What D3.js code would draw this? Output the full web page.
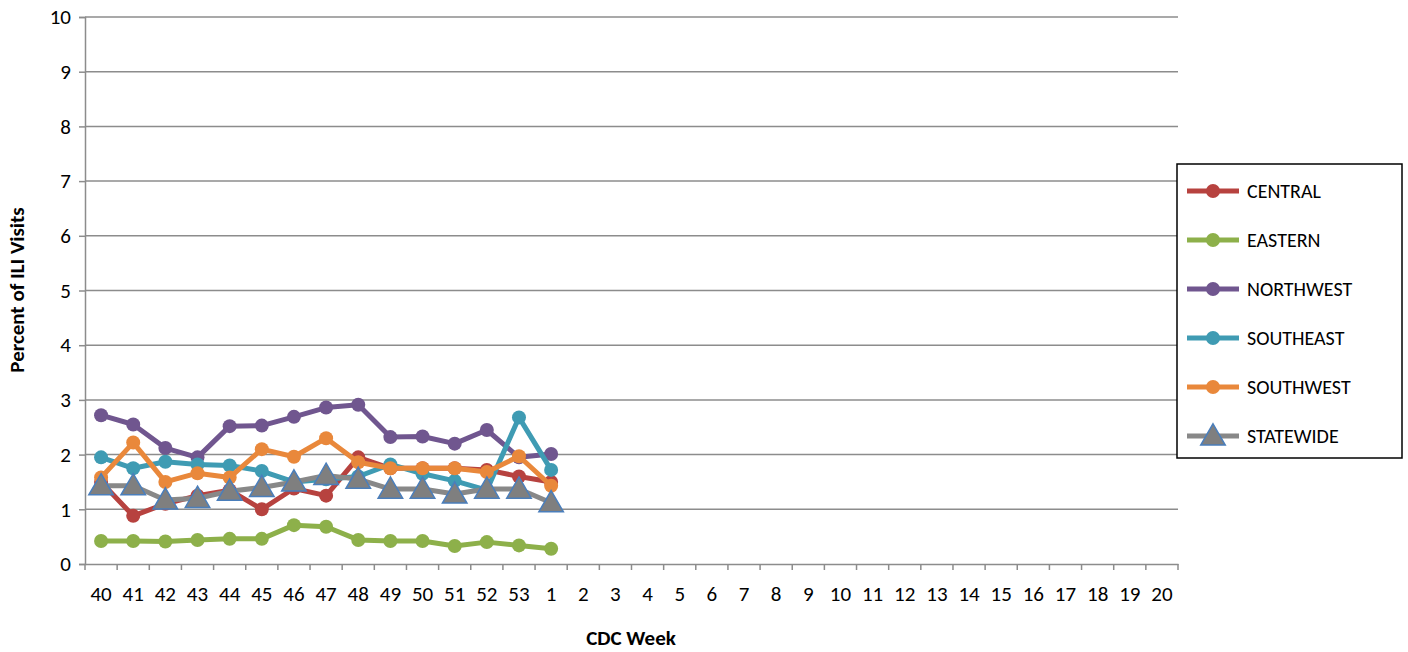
<!DOCTYPE html>
<html><head><meta charset="utf-8">
<script src="https://cdn.jsdelivr.net/npm/d3@7"></script>
<style>body{margin:0;background:#fff}text{font-family:Carlito,"Open Sans","Liberation Sans",sans-serif}</style>
</head><body>
<svg id="chart" width="1408" height="652"></svg>
<script>
const weeks = ["40","41","42","43","44","45","46","47","48","49","50","51","52","53","1","2","3","4","5","6","7","8","9","10","11","12","13","14","15","16","17","18","19","20"];
const central   = [1.5,0.88,1.1,1.25,1.35,1.0,1.38,1.25,1.95,1.75,1.75,1.75,1.72,1.6,1.5];
const eastern   = [0.42,0.42,0.41,0.44,0.46,0.46,0.71,0.68,0.44,0.42,0.42,0.33,0.40,0.34,0.28];
const northwest = [2.72,2.55,2.12,1.95,2.52,2.53,2.69,2.86,2.91,2.32,2.33,2.2,2.45,1.95,2.01];
const southeast = [1.95,1.75,1.87,1.82,1.8,1.7,1.5,1.55,1.6,1.82,1.65,1.52,1.35,2.68,1.72];
const southwest = [1.58,2.22,1.5,1.66,1.58,2.1,1.96,2.3,1.86,1.75,1.75,1.75,1.68,1.97,1.43];
const statewide = [1.43,1.43,1.17,1.2,1.33,1.4,1.5,1.62,1.55,1.37,1.37,1.28,1.37,1.37,1.12];
const yTicks = d3.range(0, 11);

const series = [
  {name:"CENTRAL", values:central, color:"#b7423f", marker:"circle"},
  {name:"EASTERN", values:eastern, color:"#8db04a", marker:"circle"},
  {name:"NORTHWEST", values:northwest, color:"#70568f", marker:"circle"},
  {name:"SOUTHEAST", values:southeast, color:"#3f9bb3", marker:"circle"},
  {name:"SOUTHWEST", values:southwest, color:"#e9883b", marker:"circle"},
  {name:"STATEWIDE", values:statewide, color:"#888888", marker:"triangle"}
];

const svg = d3.select("#chart");
const mLeft = 85, mRight = 1178, mTop = 17, mBottom = 564;
const x = d3.scaleBand().domain(weeks).range([mLeft, mRight]);
const y = d3.scaleLinear().domain([0, 10]).range([mBottom, mTop]);

svg.append("g").selectAll("line").data(yTicks.filter(d => d > 0)).enter().append("line")
  .attr("x1", mLeft).attr("x2", mRight).attr("y1", d => y(d)).attr("y2", d => y(d))
  .attr("stroke", "#8c8c8c").attr("stroke-width", 1.5);

const yAxis = svg.append("g").attr("transform", `translate(${mLeft},0)`)
  .call(d3.axisLeft(y).tickValues(yTicks).tickSize(6).tickPadding(8));
const xAxis = svg.append("g").attr("transform", `translate(0,${mBottom})`)
  .call(d3.axisBottom(x).tickSize(0).tickPadding(22));
svg.append("g").selectAll("line").data(weeks.concat(["_end"])).enter().append("line")
  .attr("x1", (d,i) => mLeft + i * x.bandwidth()).attr("x2", (d,i) => mLeft + i * x.bandwidth())
  .attr("y1", mBottom).attr("y2", mBottom + 6).attr("stroke", "#8c8c8c").attr("stroke-width", 1.5);
[yAxis, xAxis].forEach(a => {
  a.select(".domain").attr("stroke", "#8c8c8c").attr("stroke-width", 1.5);
  a.selectAll(".tick line").attr("stroke", "#8c8c8c").attr("stroke-width", 1.5);
  a.selectAll("text").attr("font-size", 21).attr("fill", "#000");
});

const line = d3.line().x((d, i) => x(weeks[i]) + x.bandwidth() / 2).y(d => y(d));
const tri = d3.symbol().type(d3.symbolTriangle).size(260);

series.forEach(s => {
  const g = svg.append("g");
  g.append("path").attr("d", line(s.values)).attr("fill", "none")
    .attr("stroke", s.color).attr("stroke-width", 5).attr("stroke-linejoin", "round");
  const pts = g.selectAll(".pt").data(s.values).enter();
  if (s.marker === "circle") {
    pts.append("circle").attr("cx", (d, i) => x(weeks[i]) + x.bandwidth() / 2).attr("cy", d => y(d))
      .attr("r", 7).attr("fill", s.color);
  } else {
    pts.append("path").attr("d", tri)
      .attr("transform", (d, i) => `translate(${x(weeks[i]) + x.bandwidth() / 2},${y(d) + 2})`)
      .attr("fill", "#7f7f7f").attr("stroke", "#4a7ebb").attr("stroke-width", 1.5);
  }
});

// legend
const lg = svg.append("g").attr("transform", "translate(1177,164)");
lg.append("rect").attr("width", 225).attr("height", 294).attr("fill", "#fff").attr("stroke", "#000").attr("stroke-width", 1.5);
series.forEach((s, i) => {
  const ly = 27 + i * 49;
  lg.append("line").attr("x1", 10).attr("x2", 62).attr("y1", ly).attr("y2", ly).attr("stroke", s.color).attr("stroke-width", 5);
  if (s.marker === "circle") lg.append("circle").attr("cx", 36).attr("cy", ly).attr("r", 7).attr("fill", s.color);
  else lg.append("path").attr("d", tri).attr("transform", `translate(36,${ly + 2})`).attr("fill", "#7f7f7f").attr("stroke", "#4a7ebb").attr("stroke-width", 1.5);
  lg.append("text").attr("x", 70).attr("y", ly).attr("dy", "0.35em").attr("font-size", 20).text(s.name);
});

svg.append("text").attr("x", 631).attr("y", 645).attr("text-anchor", "middle")
  .attr("font-size", 21).attr("font-weight", "bold").text("CDC Week");
svg.append("text").attr("transform", "translate(24,290) rotate(-90)").attr("text-anchor", "middle")
  .attr("font-size", 21).attr("font-weight", "bold").text("Percent of ILI Visits");
</script>
</body></html>
